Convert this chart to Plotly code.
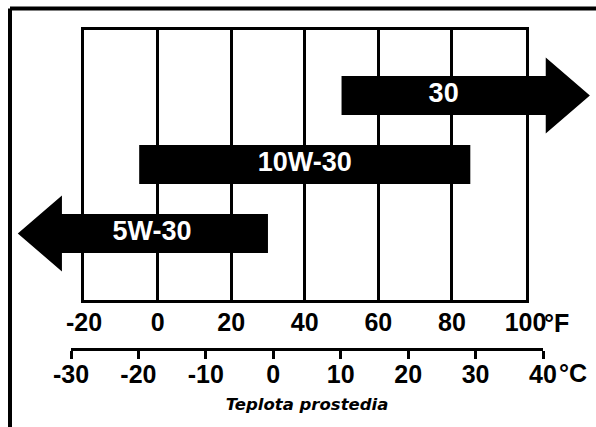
import plotly.graph_objects as go

# ---------------- data ----------------
f_ticks = [-20, 0, 20, 40, 60, 80, 100]          # °F scale
c_ticks = [-30, -20, -10, 0, 10, 20, 30, 40]     # °C scale
f_labels = ["-20", "0", "20", "40", "60", "80", "100"]
c_labels = ["-30", "-20", "-10", "0", "10", "20", "30", "40"]
grades = ["30", "10W-30", "5W-30"]               # oil grades (top -> bottom)
start_F = [50, -5, -26]                          # left end of each bar, °F
end_F = [105.5, 85, 30]                          # right end of each bar, °F
open_side = ["right", "none", "left"]            # which side carries an arrow head
axis_title = "Teplota prostedia"

# ---------------- layout constants ----------------
W, H = 596, 427
BOX_L, BOX_R, BOX_T, BOX_B = 84, 525.5, 29.5, 300      # grid box (px)
PX_PER_F = (BOX_R - BOX_L) / (f_ticks[-1] - f_ticks[0])
FULL_X = [f_ticks[0] - BOX_L / PX_PER_F, f_ticks[0] + (W - BOX_L) / PX_PER_F]
ROW0_PX, ROW_STEP = 233.5, 69.0
FULL_Y = [(ROW0_PX - H) / ROW_STEP, ROW0_PX / ROW_STEP]
C_L, C_R, C_Y = 71, 543, 348
SHAFT_H, HEAD_H, HEAD_L = 0.283, 0.55, 12.0
label_shift = {"5W-30": -3.5}

FAM = "Liberation Sans, Arial, sans-serif"
BOLD = dict(family=FAM, size=25, color="black", weight="bold")

fig = go.Figure()

# subplot 1: grid box in °F (invisible carrier trace)
fig.add_trace(go.Scatter(x=f_ticks, y=[0.5] * len(f_ticks), mode="markers",
                         marker=dict(opacity=0), hoverinfo="skip", showlegend=False,
                         xaxis="x", yaxis="y"))

# subplot 2: arrows on a full-figure °F axis
for i, (g, s, e, side) in enumerate(zip(grades, start_F, end_F, open_side)):
    r = len(grades) - 1 - i
    if side == "right":
        xs = [s, e, e, e + HEAD_L, e, e, s, s]
        ys = [r - SHAFT_H, r - SHAFT_H, r - HEAD_H, r, r + HEAD_H, r + SHAFT_H, r + SHAFT_H, r - SHAFT_H]
    elif side == "left":
        xs = [e, s, s, s - HEAD_L, s, s, e, e]
        ys = [r - SHAFT_H, r - SHAFT_H, r - HEAD_H, r, r + HEAD_H, r + SHAFT_H, r + SHAFT_H, r - SHAFT_H]
    else:
        xs = [s, e, e, s, s]
        ys = [r - SHAFT_H, r - SHAFT_H, r + SHAFT_H, r + SHAFT_H, r - SHAFT_H]
    fig.add_trace(go.Scatter(x=xs, y=ys, mode="lines", fill="toself",
                             fillcolor="black", line=dict(width=0, color="black"),
                             hoverinfo="skip", showlegend=False, xaxis="x2", yaxis="y2"))
    fig.add_trace(go.Scatter(x=[(s + e) / 2 + label_shift.get(g, 0)], y=[r], mode="text",
                             text=[g], textposition="middle center",
                             textfont=dict(family=FAM, size=27, color="white", weight="bold"),
                             hoverinfo="skip", showlegend=False, xaxis="x2", yaxis="y2"))

# subplot 3: °C scale (invisible carrier trace)
fig.add_trace(go.Scatter(x=c_ticks, y=[0] * len(c_ticks), mode="markers",
                         marker=dict(opacity=0), hoverinfo="skip", showlegend=False,
                         xaxis="x3", yaxis="y3"))

fig.update_layout(
    template="none",
    width=W, height=H,
    margin=dict(l=0, r=0, t=0, b=0, pad=0),
    paper_bgcolor="white", plot_bgcolor="rgba(0,0,0,0)",
    showlegend=False,
    xaxis=dict(domain=[BOX_L / W, BOX_R / W], range=[f_ticks[0], f_ticks[-1]],
               tickvals=f_ticks, ticktext=f_labels, showgrid=True, gridcolor="black", gridwidth=3,
               showline=True, mirror=True, linecolor="black", linewidth=3,
               ticks="", tickfont=BOLD, ticklabelstandoff=-2, zeroline=False, fixedrange=True,
               automargin=False, anchor="y"),
    yaxis=dict(domain=[(H - BOX_B) / H, (H - BOX_T) / H], range=[0, 1],
               showgrid=False, showline=True, mirror=True, linecolor="black", linewidth=3,
               showticklabels=False, ticks="", zeroline=False, fixedrange=True,
               automargin=False, anchor="x"),
    xaxis2=dict(domain=[0, 1], range=FULL_X, visible=False, fixedrange=True,
                automargin=False, anchor="y2"),
    yaxis2=dict(domain=[0, 1], range=FULL_Y, visible=False, fixedrange=True,
                automargin=False, anchor="x2"),
    xaxis3=dict(domain=[C_L / W, C_R / W], range=[c_ticks[0], c_ticks[-1]],
                tickvals=c_ticks, ticktext=c_labels, showgrid=False, zeroline=False,
                showline=True, linecolor="black", linewidth=3,
                ticks="outside", ticklen=8, tickwidth=3, tickcolor="black",
                tickfont=BOLD, ticklabelstandoff=-6, fixedrange=True, automargin=False,
                anchor="y3",
                title=dict(text=axis_title, standoff=12,
                           font=dict(family="DejaVu Sans, Verdana, sans-serif", size=16.5,
                                     color="black", weight="bold", style="italic"))),
    yaxis3=dict(domain=[(H - C_Y) / H, (H - C_Y) / H + 0.01], visible=False,
                fixedrange=True, automargin=False, anchor="x3"),
    shapes=[
        dict(type="line", xref="paper", yref="paper", x0=10 / W, x1=10 / W,
             y0=-0.05, y1=1 - 8.5 / H, line=dict(color="black", width=4)),
        dict(type="line", xref="paper", yref="paper", x0=10 / W, x1=1.05,
             y0=1 - 8.5 / H, y1=1 - 8.5 / H, line=dict(color="black", width=4)),
    ],
    annotations=[
        dict(text="°F", xref="paper", yref="paper", x=542 / W, y=1 - 323 / H,
             xanchor="left", yanchor="middle", showarrow=False, font=BOLD),
        dict(text="°C", xref="paper", yref="paper", x=557 / W, y=1 - 373 / H,
             xanchor="left", yanchor="middle", showarrow=False, font=BOLD),
    ],
)

fig.write_html("out.html", config={"displayModeBar": False},
               post_script="document.body.style.margin='0';document.body.style.overflow='hidden';")
